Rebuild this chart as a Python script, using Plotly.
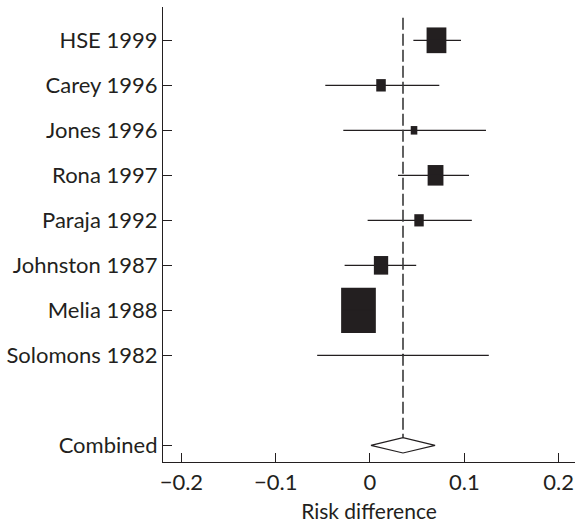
import plotly.graph_objects as go
import numpy as np

studies = ["HSE 1999", "Carey 1996", "Jones 1996", "Rona 1997", "Paraja 1992",
           "Johnston 1987", "Melia 1988", "Solomons 1982"]
estimates = [0.0705, 0.0117, 0.0467, 0.0695, 0.052, 0.0117, -0.0122, 0.035]
ci_low = [0.046, -0.0474, -0.0283, 0.0297, -0.0025, -0.0269, -0.028, -0.056]
ci_high = [0.0965, 0.0735, 0.123, 0.105, 0.108, 0.049, 0.004, 0.126]
weights = [17.2, 4.0, 1.9, 11.0, 3.9, 9.0, 52.9, 0.1]

combined_label = "Combined"
combined_est = 0.035
combined_low = 0.001
combined_high = 0.069

x_ticks = [-0.2, -0.1, 0, 0.1, 0.2]
x_tick_labels = ["\u22120.2", "\u22120.1", "0", "0.1", "0.2"]
x_title = "Risk difference"

INK = "#231f20"
FONT = "Lato"

rows = list(range(1, len(studies) + 1))
comb_row = len(studies) + 2

fig = go.Figure()

# confidence interval lines
for r, lo, hi in zip(rows, ci_low, ci_high):
    fig.add_trace(go.Scatter(x=[lo, hi], y=[r, r], mode="lines",
                             line=dict(color=INK, width=1.2),
                             hoverinfo="skip", showlegend=False))

# weight boxes
sq = np.sqrt(np.array(weights))
box_w = 0.00506 * sq
box_h = 0.1378 * sq
fig.add_trace(go.Bar(y=rows, x=box_w, base=np.array(estimates) - box_w / 2,
                     width=box_h, orientation="h",
                     marker=dict(color=INK, line=dict(width=0)),
                     showlegend=False))

# dashed line at combined estimate
dh = 0.17
fig.add_trace(go.Scatter(x=[combined_est, combined_est], y=[0.5, comb_row - dh],
                         mode="lines",
                         line=dict(color="#3a3a3a", width=1.6, dash="12px,4px"),
                         hoverinfo="skip", showlegend=False))

# combined diamond
fig.add_trace(go.Scatter(
    x=[combined_low, combined_est, combined_high, combined_est, combined_low],
    y=[comb_row, comb_row - dh, comb_row, comb_row + dh, comb_row],
    mode="lines", fill="toself", fillcolor="white",
    line=dict(color=INK, width=1.2), hoverinfo="skip", showlegend=False))

fig.update_layout(
    width=575, height=523,
    margin=dict(l=163, r=0, t=7, b=61),
    plot_bgcolor="white", paper_bgcolor="white",
    barmode="overlay",
    font=dict(family=FONT, size=21, color=INK),
    xaxis=dict(range=[-0.2195, 0.2174], tickvals=x_ticks, ticktext=x_tick_labels,
               ticks="inside", ticklen=9, tickwidth=1, tickcolor=INK,
               showline=True, linecolor=INK, linewidth=1.2, showgrid=False,
               zeroline=False,
               title=dict(text=x_title, standoff=10, font=dict(size=21)),
               tickfont=dict(size=22), automargin=False,
               ticklabeloverflow="allow"),
    yaxis=dict(range=[comb_row + 0.37, 0.26], tickvals=rows + [comb_row],
               ticktext=studies + [combined_label],
               ticks="inside", ticklen=9, tickwidth=1, tickcolor=INK,
               showline=True, linecolor=INK, linewidth=1.2, showgrid=False,
               zeroline=False, tickfont=dict(size=22), automargin=False,
               ticklabeloverflow="allow"),
)

fig.write_html("out.html", config={"displayModeBar": False},
               post_script="document.body.style.margin='0';")
